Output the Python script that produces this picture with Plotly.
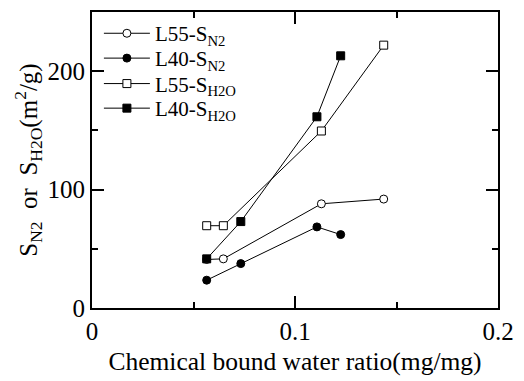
import plotly.graph_objects as go

# Data
x_l55 = [0.0565, 0.0647, 0.113, 0.1437]
x_l40 = [0.0565, 0.0733, 0.1108, 0.1225]
y_l55_n2 = [41.0, 41.5, 88.0, 92.0]
y_l40_n2 = [23.5, 37.5, 68.5, 62.0]
y_l55_h2o = [69.5, 69.5, 149.5, 222.0]
y_l40_h2o = [41.5, 73.0, 161.5, 213.0]

x_ticks = [0, 0.1, 0.2]
x_tick_text = ["0", "0.1", "0.2"]
y_ticks = [0, 100, 200]
y_tick_text = ["0", "100", "200"]

FONT = "Liberation Serif"

fig = go.Figure()

series = [
    (x_l55, y_l55_n2, "L55-S<sub>N2</sub>", "circle", "white", "legend"),
    (x_l40, y_l40_n2, "L40-S<sub>N2</sub>", "circle", "black", "legend2"),
    (x_l55, y_l55_h2o, "L55-S<sub>H2O</sub>", "square", "white", "legend3"),
    (x_l40, y_l40_h2o, "L40-S<sub>H2O</sub>", "square", "black", "legend4"),
]
for x, y, name, sym, fill, lg in series:
    fig.add_trace(go.Scatter(
        x=x, y=y, name=name, mode="lines+markers", legend=lg,
        line=dict(color="black", width=1),
        marker=dict(symbol=sym, size=8, color=fill, line=dict(color="black", width=1)),
    ))

leg_common = dict(x=0.017, xanchor="left", yanchor="middle", bgcolor="rgba(0,0,0,0)",
                  font=dict(size=21, family=FONT, color="black"), itemwidth=46)
leg_y = [0.927, 0.843, 0.757, 0.674]

fig.update_layout(
    width=524, height=381,
    margin=dict(l=92, r=20, t=10, b=71),
    paper_bgcolor="white", plot_bgcolor="white",
    font=dict(family=FONT, size=25, color="black"),
    showlegend=True,
    legend=dict(y=leg_y[0], **leg_common),
    legend2=dict(y=leg_y[1], **leg_common),
    legend3=dict(y=leg_y[2], **leg_common),
    legend4=dict(y=leg_y[3], **leg_common),
)

fig.update_xaxes(
    range=[0, 0.2], tickvals=x_ticks, ticktext=x_tick_text,
    showgrid=False, zeroline=False,
    showline=True, linecolor="black", linewidth=2, mirror="ticks",
    ticks="inside", ticklen=12, tickwidth=1.5, tickcolor="black",
    minor=dict(dtick=0.05, tick0=0, ticks="inside", ticklen=6, tickwidth=1.5, tickcolor="black", showgrid=False),
    tickfont=dict(size=25, family=FONT),
    title=dict(text="Chemical bound water ratio(mg/mg)", font=dict(size=25.5, family=FONT), standoff=8),
)
fig.update_yaxes(
    range=[0, 250], tickvals=y_ticks, ticktext=y_tick_text,
    showgrid=False, zeroline=False,
    showline=True, linecolor="black", linewidth=2, mirror="ticks",
    ticks="inside", ticklen=12, tickwidth=1.5, tickcolor="black",
    minor=dict(dtick=50, tick0=0, ticks="inside", ticklen=6, tickwidth=1.5, tickcolor="black", showgrid=False),
    tickfont=dict(size=25, family=FONT),
    title=dict(text="S<sub>N2</sub>\u00a0\u00a0or\u00a0\u00a0S<sub>H2O</sub>(m<sup>2</sup>/g)",
               font=dict(size=25, family=FONT), standoff=3),
)

fig.write_html("out.html")
